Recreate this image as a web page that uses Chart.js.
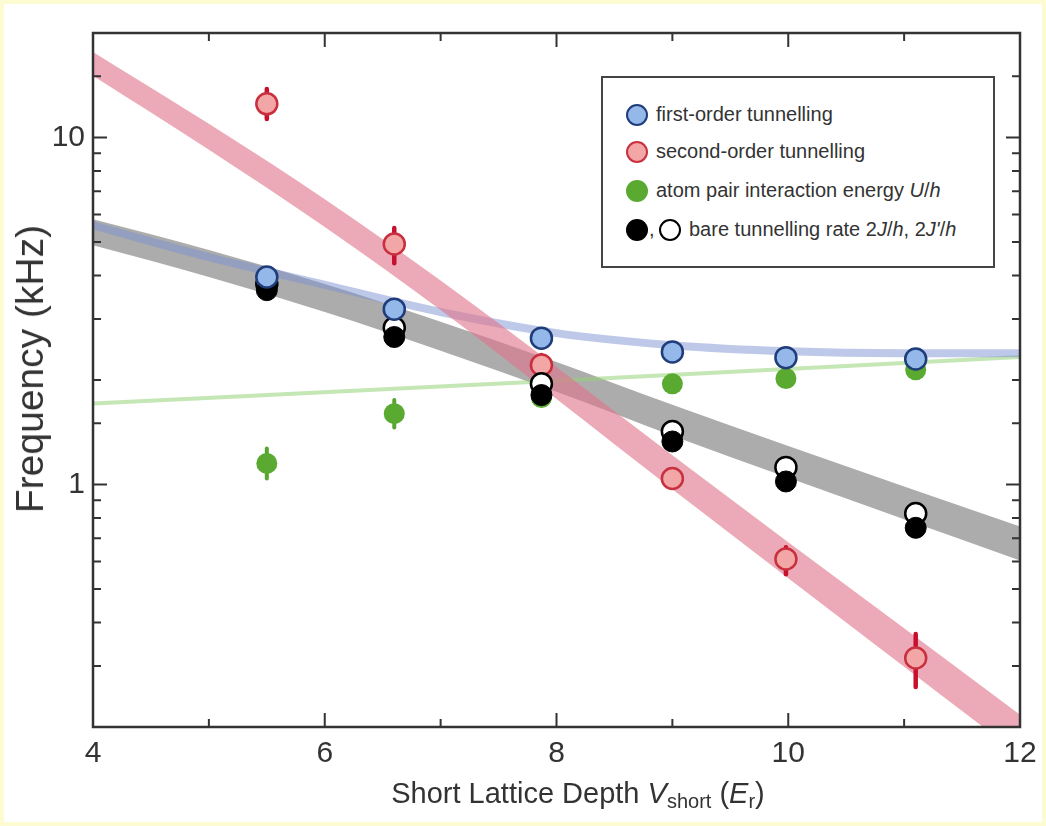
<!DOCTYPE html>
<html>
<head>
<meta charset="utf-8">
<script src="https://cdn.jsdelivr.net/npm/chart.js@4.4.1/dist/chart.umd.min.js"></script>
<style>
  html, body { margin: 0; padding: 0; background: #fdfbd2; }
  #wrap { position: relative; width: 1046px; height: 826px; }
  #card { position: absolute; left: 4px; top: 4px; width: 1038px; height: 818px; background: #fff; }
  #myChart { position: absolute; left: 0; top: 0; }
  .txt { position: absolute; font-family: "Liberation Sans", Arial, sans-serif; color: #333; white-space: nowrap; }
  #ytitle { left: 30px; top: 369px; font-size: 39px; transform: translate(-50%, -50%) rotate(-90deg); }
  #xtitle { left: 578px; top: 795px; font-size: 29px; transform: translate(-50%, -50%); }
  #xtitle sub { font-size: 20px; vertical-align: -5px; }
  #legend { position: absolute; left: 601px; top: 76px; width: 390px; height: 188px; border: 2px solid #444; background: #fff; }
  .row { position: absolute; left: 0; height: 24px; font-family: "Liberation Sans", Arial, sans-serif; font-size: 20px; color: #333; }
  .dot { position: absolute; top: 1px; width: 22px; height: 22px; border-radius: 50%; box-sizing: border-box; }
  .lab { position: absolute; top: 0; white-space: nowrap; }
</style>
</head>
<body>
<div id="wrap">
  <div id="card"></div>
  <canvas id="myChart" width="1046" height="826"></canvas>
  <div class="txt" id="ytitle">Frequency (kHz)</div>
  <div class="txt" id="xtitle">Short Lattice Depth <i>V</i><sub>short</sub> (<i>E</i><sub>r</sub>)</div>
  <div id="legend">
    <div class="row" style="top:25px"><span class="dot" style="left:23px;background:#94b8ea;border:2.5px solid #1f3d7a"></span><span class="lab" style="left:53px">first-order tunnelling</span></div>
    <div class="row" style="top:62px"><span class="dot" style="left:23px;background:#f2a6a6;border:2.5px solid #c9303f"></span><span class="lab" style="left:53px">second-order tunnelling</span></div>
    <div class="row" style="top:101px"><span class="dot" style="left:23px;background:#5aaa32"></span><span class="lab" style="left:53px">atom pair interaction energy <i>U</i>/<i>h</i></span></div>
    <div class="row" style="top:140px"><span class="dot" style="left:23px;background:#000"></span><span class="lab" style="left:46px">,</span><span class="dot" style="left:56px;background:#fff;border:2.5px solid #000"></span><span class="lab" style="left:86px">bare tunnelling rate 2<i>J</i>/<i>h</i>, 2<i>J'</i>/<i>h</i></span></div>
  </div>
</div>
<script>
// measured points (lattice depth in Er, frequency in kHz)
const depth = [5.5, 6.6, 7.87, 9.0, 9.98, 11.1];
const firstOrder = [3.96, 3.2, 2.64, 2.41, 2.32, 2.30];
const secondOrder = [12.5, 4.93, 2.21, 1.04, 0.61, 0.316];
const secondLow = [11.3, 4.34, 2.11, 1.0, 0.551, 0.261];
const secondHigh = [13.8, 5.48, 2.36, 1.09, 0.659, 0.371];
const pairU = [1.15, 1.60, 1.78, 1.95, 2.02, 2.14];
const pairLow = [1.04, 1.46, 1.72, 1.90, 1.98, 2.10];
const pairHigh = [1.27, 1.75, 1.84, 2.00, 2.06, 2.18];
const bareJ = [3.63, 2.66, 1.81, 1.33, 1.02, 0.75];
const bareJprime = [3.78, 2.83, 1.95, 1.42, 1.12, 0.825];

// theory curves, bands given by their lower and upper edges
const curveX = [4, 5, 6, 7, 8, 9, 10, 11, 12];
const secondBandLow = [15.05, 9.22, 5.52, 3.18, 1.762, 0.968, 0.537, 0.2985, 0.166];
const secondBandHigh = [17.64, 10.95, 6.64, 3.87, 2.18, 1.213, 0.682, 0.385, 0.217];
const bareBandLow = [4.89, 3.964, 3.14, 2.429, 1.849, 1.382, 1.045, 0.794, 0.604];
const bareBandHigh = [5.81, 4.74, 3.78, 2.943, 2.255, 1.696, 1.291, 0.987, 0.757];
const curveFirst = [5.58, 4.52, 3.76, 3.14, 2.73, 2.52, 2.42, 2.39, 2.39];
const curveGreenX = [4, 8, 12];
const curveGreen = [1.71, 1.99, 2.33];

const xTicks = [4, 6, 8, 10, 12];
const yTicks = [1, 10];

const pts = (xs, ys) => xs.map((x, i) => ({x: x, y: ys[i]}));

function errorBars(chart, lo, hi, color, w) {
  const ctx = chart.ctx, xs = chart.scales.x, yy = chart.scales.y;
  ctx.save();
  ctx.strokeStyle = color;
  ctx.lineWidth = w;
  ctx.lineCap = 'round';
  depth.forEach((d, i) => {
    const px = xs.getPixelForValue(d);
    ctx.beginPath();
    ctx.moveTo(px, yy.getPixelForValue(lo[i]));
    ctx.lineTo(px, yy.getPixelForValue(hi[i]));
    ctx.stroke();
  });
  ctx.restore();
}

const framePlugin = {
  id: 'frame',
  beforeDatasetDraw: (chart, args) => {
    if (args.index === 3) errorBars(chart, secondLow, secondHigh, '#c8102e', 4.5);
    if (args.index === 4) errorBars(chart, pairLow, pairHigh, '#57a52f', 4);
  },
  afterDraw: (chart) => {
    const ctx = chart.ctx, a = chart.chartArea;
    const xs = chart.scales.x, yy = chart.scales.y;
    ctx.save();
    ctx.strokeStyle = '#333';
    ctx.lineWidth = 2.5;
    ctx.strokeRect(a.left, a.top, a.right - a.left, a.bottom - a.top);
    ctx.lineWidth = 2;
    xs.ticks.forEach(t => {
      const px = xs.getPixelForValue(t.value);
      const len = xTicks.includes(t.value) ? 14 : 8;
      ctx.beginPath();
      ctx.moveTo(px, a.bottom); ctx.lineTo(px, a.bottom - len);
      ctx.moveTo(px, a.top); ctx.lineTo(px, a.top + len);
      ctx.stroke();
    });
    yy.ticks.forEach(t => {
      const py = yy.getPixelForValue(t.value);
      const len = yTicks.includes(t.value) ? 14 : 8;
      ctx.beginPath();
      ctx.moveTo(a.left, py); ctx.lineTo(a.left + len, py);
      ctx.moveTo(a.right, py); ctx.lineTo(a.right - len, py);
      ctx.stroke();
    });
    ctx.restore();
  }
};

const edge = (xs, ys, fill, color, ord) => ({
  type: 'line', data: pts(xs, ys), borderWidth: 0, borderColor: 'rgba(0,0,0,0)',
  backgroundColor: color, fill: fill, pointRadius: 0,
  cubicInterpolationMode: 'monotone', order: ord
});
const curve = (xs, ys, color, w, ord) => ({
  type: 'line', data: pts(xs, ys), borderColor: color, borderWidth: w,
  pointRadius: 0, cubicInterpolationMode: 'monotone', order: ord
});
const marks = (ys, fill, stroke, bw, ord) => ({
  type: 'scatter', data: pts(depth, ys), backgroundColor: fill, borderColor: stroke,
  borderWidth: bw, pointRadius: 10.5, pointHoverRadius: 10.5, order: ord
});

const data = {
  datasets: [
    marks(firstOrder, '#94b8ea', '#1f3d7a', 2.5, 1),
    marks(bareJ, '#000', '#000', 1, 2),
    marks(bareJprime, '#fff', '#000', 2.5, 3),
    marks(secondOrder, '#f2a6a6', '#c9303f', 2.5, 4),
    marks(pairU, '#5aaa32', '#5aaa32', 0, 5),
    edge(curveX, secondBandLow, false, 'rgba(0,0,0,0)', 6),
    edge(curveX, secondBandHigh, '-1', 'rgba(224,118,140,0.62)', 7),
    curve(curveX, curveFirst, 'rgba(125,145,210,0.5)', 8, 8),
    curve(curveGreenX, curveGreen, 'rgba(150,210,120,0.55)', 4, 9),
    edge(curveX, bareBandLow, false, 'rgba(0,0,0,0)', 10),
    edge(curveX, bareBandHigh, '-1', 'rgba(140,140,140,0.72)', 11)
  ]
};

const config = {
  type: 'scatter',
  data: data,
  plugins: [framePlugin],
  options: {
    responsive: false,
    animation: false,
    layout: { padding: 0 },
    plugins: { legend: { display: false }, tooltip: { enabled: false } },
    scales: {
      x: {
        type: 'linear', min: 4, max: 12,
        grid: { display: false, drawTicks: false },
        border: { display: false },
        afterFit: s => { s.height = 99; },
        ticks: {
          stepSize: 1, autoSkip: false, padding: 9, color: '#333',
          font: { family: 'Liberation Sans', size: 30 },
          callback: v => xTicks.includes(v) ? String(v) : ''
        }
      },
      y: {
        type: 'logarithmic', min: 0.2, max: 20,
        grid: { display: false, drawTicks: false },
        border: { display: false },
        afterFit: s => { s.width = 93; },
        ticks: {
          autoSkip: false, padding: 8, color: '#333',
          font: { family: 'Liberation Sans', size: 30 },
          callback: v => yTicks.includes(v) ? String(v) : ''
        }
      },
      x2: {
        type: 'linear', position: 'top', min: 4, max: 12,
        grid: { display: false }, border: { display: false },
        ticks: { display: false },
        afterFit: s => { s.height = 33; }
      },
      y2: {
        type: 'logarithmic', position: 'right', min: 0.2, max: 20,
        grid: { display: false }, border: { display: false },
        ticks: { display: false },
        afterFit: s => { s.width = 26; }
      }
    }
  }
};

const myChart = new Chart(document.getElementById('myChart'), config);
</script>
</body>
</html>
